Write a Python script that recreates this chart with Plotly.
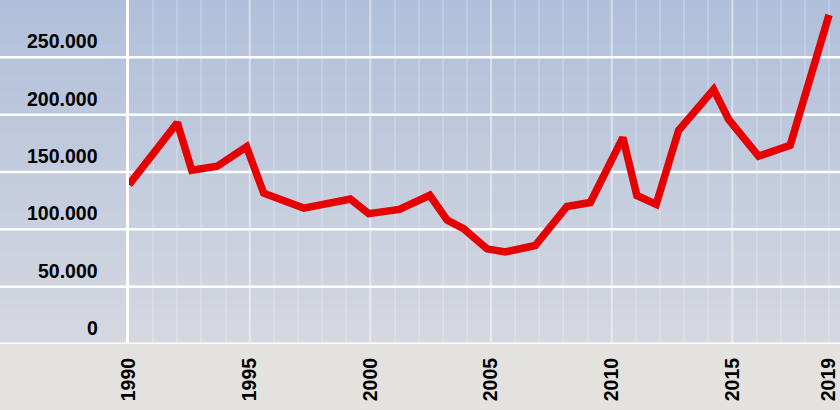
import plotly.graph_objects as go

# Data (fractional-year positions of line vertices)
years = [1990.0, 1992.0, 1992.6, 1993.65, 1994.87, 1995.58, 1997.24, 1999.17,
         1999.93, 2001.2, 2002.46, 2003.18, 2003.86, 2004.83, 2005.59, 2006.83,
         2008.14, 2009.11, 2010.46, 2011.04, 2011.84, 2012.77, 2014.22, 2014.84,
         2016.08, 2017.39, 2019.0]
values = [139000, 193000, 151500, 155000, 172000, 131500, 118500, 126500,
          113700, 117400, 129700, 108100, 100600, 83000, 80300, 85900,
          119900, 123400, 180000, 129500, 121800, 186400, 222000, 195800,
          163800, 173300, 287000]

x_tickvals = [1990, 1995, 2000, 2005, 2010, 2015, 2019]
x_ticktext = ["1990", "1995", "2000", "2005", "2010", "2015", "2019"]
y_tickvals = [0, 50000, 100000, 150000, 200000, 250000]
y_ticktext = ["0", "50.000", "100.000", "150.000", "200.000", "250.000"]
major_grid_years = [1995, 2000, 2005, 2010, 2015]

fig = go.Figure()
fig.add_trace(go.Scatter(x=years, y=values, mode="lines",
                         line=dict(color="#e60000", width=7.5),
                         hoverinfo="skip"))

shapes = []
# vertical gradient background (top blue-ish -> bottom grey-ish)
top = (176, 191, 219)
bot = (214, 216, 224)
n = 60
for i in range(n):
    t = (i + 0.5) / n
    c = tuple(round(bot[k] + (top[k] - bot[k]) * t) for k in range(3))
    shapes.append(dict(type="rect", xref="paper", yref="paper",
                       x0=-0.3, x1=1.2, y0=i / n, y1=(i + 1) / n + 0.002,
                       fillcolor="rgb(%d,%d,%d)" % c, line=dict(width=0),
                       layer="below"))
# major vertical grid lines every 5 years
for yr in major_grid_years:
    shapes.append(dict(type="line", xref="x", yref="paper", x0=yr, x1=yr,
                       y0=0, y1=1, line=dict(color="rgba(255,255,255,0.35)", width=2),
                       layer="below"))
# horizontal gridlines spanning full width
for v in y_tickvals[1:]:
    shapes.append(dict(type="line", xref="paper", yref="y", x0=-0.3, x1=1.2,
                       y0=v, y1=v, line=dict(color="white", width=2.5),
                       layer="below"))
shapes.append(dict(type="line", xref="paper", yref="y", x0=-0.3, x1=1.2,
                   y0=0, y1=0, line=dict(color="white", width=3), layer="below"))

# y-axis labels as annotations placed on the y scale, sitting above each gridline
annotations = []
for v, txt in zip(y_tickvals, y_ticktext):
    annotations.append(dict(xref="paper", yref="y", x=0, y=v, text=txt,
                            showarrow=False, xanchor="right", yanchor="middle",
                            xshift=-29, yshift=16,
                            font=dict(size=19.5, weight="bold", color="#000000",
                                      family="Liberation Sans, Arial, sans-serif")))

fig.update_layout(
    width=840, height=410,
    margin=dict(l=129, r=0, t=0, b=66, autoexpand=False),
    paper_bgcolor="#e3e2df",
    plot_bgcolor="rgba(0,0,0,0)",
    showlegend=False,
    shapes=shapes,
    annotations=annotations,
    font=dict(family="Liberation Sans, Arial, sans-serif", color="#000000"),
)
fig.update_xaxes(
    range=[1990, 2019.455], automargin=False,
    tickmode="array", tickvals=x_tickvals, ticktext=x_ticktext,
    tickangle=-90, showgrid=False, zeroline=False, showline=False,
    ticks="", ticklabelstandoff=9,
    tickfont=dict(size=19.5, weight="bold", color="#000000"),
    minor=dict(dtick=1, tick0=1990, showgrid=True,
               gridcolor="rgba(255,255,255,0.18)", gridwidth=1.5),
)
fig.update_yaxes(
    range=[0, 300000], automargin=False,
    tickmode="array", tickvals=y_tickvals, showticklabels=False,
    showgrid=False, zeroline=False,
    showline=True, linecolor="white", linewidth=2.5,
    ticks="",
)

fig.write_html("out.html", config={"displayModeBar": False},
               post_script="document.body.style.margin='0';document.body.style.overflow='hidden';")
